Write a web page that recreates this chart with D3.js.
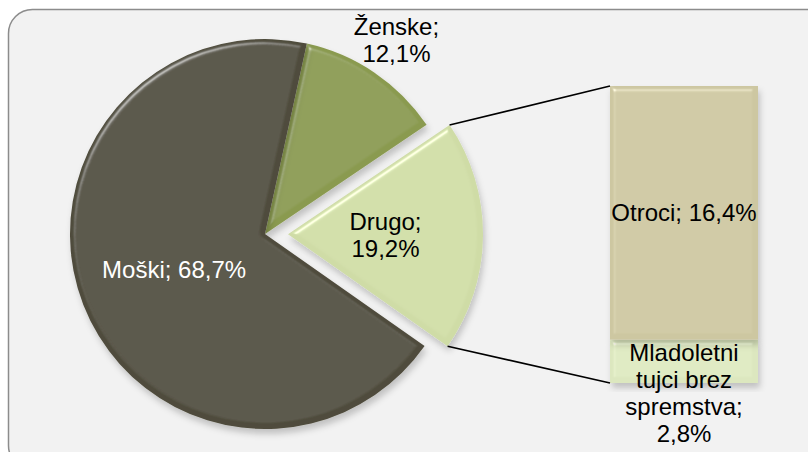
<!DOCTYPE html>
<html>
<head>
<meta charset="utf-8">
<script src="https://cdn.jsdelivr.net/npm/d3@7"></script>
<style>
  html, body { margin: 0; padding: 0; background: #ffffff; }
  svg { display: block; }
  text { font-family: "Liberation Sans", Arial, sans-serif; }
</style>
</head>
<body>
<script>
// Pie: main groups; the "Drugo" slice is broken out into the stacked bar.
const pieCategories = ["Ženske", "Drugo", "Moški"];
const pieValues = [12.1, 19.2, 68.7];
const pieLabels = ["Ženske;\n12,1%", "Drugo;\n19,2%", "Moški; 68,7%"];

// Bar: breakdown of "Drugo", bottom segment first.
const barCategories = ["Mladoletni tujci brez spremstva", "Otroci"];
const barValues = [2.8, 16.4];
const barLabels = ["Mladoletni\ntujci brez\nspremstva;\n2,8%", "Otroci; 16,4%"];

const pieColors = { "Ženske": "#8a9a4f", "Drugo": "#cfdca6", "Moški": "#4f4c3c" };
const barColors = { "Otroci": "#cdc7a1", "Mladoletni tujci brez spremstva": "#dce7bf" };

const W = 808, H = 452;
const cx = 265, cy = 234, R = 195;
const explode = 23;
const fontSize = 24, lineH = 27, capHalf = 8.5;

const svg = d3.select("body").append("svg").attr("width", W).attr("height", H);

// Bevel + soft shadow used on every slice and bar segment
const defs = svg.append("defs");
const f = defs.append("filter").attr("id", "bevel")
  .attr("x", "-15%").attr("y", "-15%").attr("width", "135%").attr("height", "135%");
f.append("feGaussianBlur").attr("in", "SourceAlpha").attr("stdDeviation", 2.5).attr("result", "blur");
const spec = f.append("feSpecularLighting").attr("in", "blur").attr("surfaceScale", 4)
  .attr("specularConstant", 0.75).attr("specularExponent", 30)
  .attr("lighting-color", "#ffffff").attr("result", "spec");
spec.append("feDistantLight").attr("azimuth", 235).attr("elevation", 42);
f.append("feComposite").attr("in", "spec").attr("in2", "SourceAlpha").attr("operator", "in").attr("result", "specIn");
f.append("feComposite").attr("in", "SourceGraphic").attr("in2", "specIn").attr("operator", "arithmetic")
  .attr("k1", 0).attr("k2", 1).attr("k3", 0.55).attr("k4", 0).attr("result", "lit");
f.append("feGaussianBlur").attr("in", "SourceAlpha").attr("stdDeviation", 3).attr("result", "sb");
f.append("feOffset").attr("in", "sb").attr("dx", 2).attr("dy", 5).attr("result", "so");
f.append("feFlood").attr("flood-color", "#000").attr("flood-opacity", 0.2).attr("result", "sc");
f.append("feComposite").attr("in", "sc").attr("in2", "so").attr("operator", "in").attr("result", "shadow");
const fm = f.append("feMerge");
fm.append("feMergeNode").attr("in", "shadow");
fm.append("feMergeNode").attr("in", "lit");

// Chart area frame
svg.append("rect")
  .attr("x", 8.5).attr("y", 9.5).attr("width", 840).attr("height", 460).attr("rx", 24)
  .attr("fill", "#f2f2f2").attr("stroke", "#8c8c8c").attr("stroke-width", 1.5);

// Pie layout
const startA = 12.4 * Math.PI / 180;
const pie = d3.pie().sort(null).value(d => d.value)
  .startAngle(startA).endAngle(startA + 2 * Math.PI);
const arcs = pie(pieCategories.map((c, i) => ({ cat: c, value: pieValues[i], label: pieLabels[i] })));
const arc = d3.arc().innerRadius(0).outerRadius(R);

function offsetOf(d) {
  if (d.data.cat !== "Drugo") return [0, 0];
  const m = (d.startAngle + d.endAngle) / 2;
  return [explode * Math.sin(m), -explode * Math.cos(m)];
}

const pieG = svg.append("g").attr("transform", `translate(${cx},${cy})`);
pieG.selectAll("path.slice").data(arcs).join("path")
  .attr("class", "slice")
  .attr("d", arc)
  .attr("transform", d => `translate(${offsetOf(d)})`)
  .attr("fill", d => pieColors[d.data.cat])
  .attr("filter", "url(#bevel)");

// Stacked bar
const barX = 610, barW = 148;
const y = d3.scaleLinear().domain([0, d3.sum(barValues)]).range([383, 86]);
let acc = 0;
const segs = barCategories.map((c, i) => {
  const s = { cat: c, v0: acc, v1: acc + barValues[i], label: barLabels[i] };
  acc += barValues[i];
  return s;
});
svg.append("g").selectAll("rect").data(segs).join("rect")
  .attr("x", barX).attr("width", barW)
  .attr("y", d => y(d.v1)).attr("height", d => y(d.v0) - y(d.v1))
  .attr("fill", d => barColors[d.cat])
  .attr("filter", "url(#bevel)");

// Connector lines from the broken-out slice to the bar
const drugo = arcs.find(d => d.data.cat === "Drugo");
const [ox, oy] = offsetOf(drugo);
const p1 = [cx + ox + R * Math.sin(drugo.startAngle), cy + oy - R * Math.cos(drugo.startAngle)];
const p2 = [cx + ox + R * Math.sin(drugo.endAngle), cy + oy - R * Math.cos(drugo.endAngle)];
svg.append("line").attr("x1", p1[0]).attr("y1", p1[1]).attr("x2", barX).attr("y2", y(d3.sum(barValues)))
  .attr("stroke", "#000").attr("stroke-width", 1.6);
svg.append("line").attr("x1", p2[0]).attr("y1", p2[1]).attr("x2", barX).attr("y2", y(0))
  .attr("stroke", "#000").attr("stroke-width", 1.6);

// Multi-line label helper, block centred on (x, yc)
function label(x, yc, txt, color) {
  const lines = txt.split("\n");
  const t = svg.append("text").attr("text-anchor", "middle")
    .attr("font-size", fontSize).attr("fill", color);
  const first = yc - (lines.length - 1) * lineH / 2 + capHalf;
  lines.forEach((l, i) => t.append("tspan").attr("x", x).attr("y", first + i * lineH).text(l));
}

// Pie labels
const labelRadius = { "Ženske": 1.2 * R, "Drugo": 0.5 * R, "Moški": 0.5 * R };
arcs.forEach(d => {
  const m = (d.startAngle + d.endAngle) / 2;
  const [dx, dy] = offsetOf(d);
  const lr = labelRadius[d.data.cat];
  const lx = cx + dx + lr * Math.sin(m);
  const ly = cy + dy - lr * Math.cos(m);
  label(lx, ly, d.data.label, d.data.cat === "Moški" ? "#ffffff" : "#000000");
});

// Bar labels
segs.forEach(s => {
  const mid = (y(s.v0) + y(s.v1)) / 2;
  const n = s.label.split("\n").length;
  // small segment: label starts inside and runs down below the bar
  const yc = n > 1 ? mid - capHalf + (n - 1) * lineH / 2 : mid;
  label(barX + barW / 2, yc, s.label, "#000000");
});
</script>
</body>
</html>
